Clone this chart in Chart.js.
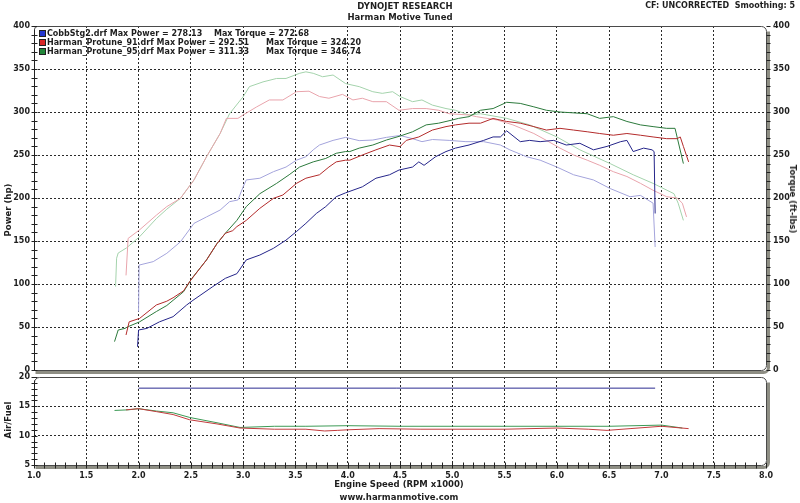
<!DOCTYPE html>
<html><head><meta charset="utf-8">
<script src="https://cdn.jsdelivr.net/npm/chart.js@4.4.1/dist/chart.umd.min.js"></script>
<style>
html,body{margin:0;padding:0;background:#fff;}
#wrap{position:relative;width:800px;height:503px;overflow:hidden;background:#fff;font-family:"DejaVu Sans",Verdana,sans-serif;font-weight:bold;color:#1e1e1e;}
canvas{position:absolute;left:0;top:0;}
.t{position:absolute;white-space:pre;font-size:8.5px;line-height:10px;}
.c{transform:translateX(-50%);}
.rot{transform:translate(-50%,-50%) rotate(-90deg);}
.rotr{transform:translate(-50%,-50%) rotate(90deg);}
.lg{position:absolute;white-space:pre;font-size:8px;line-height:9px;}
.box{position:absolute;width:5px;height:5px;border:1px solid #222;}
</style></head>
<body><div id="wrap">
<canvas id="topc" width="800" height="503"></canvas>
<canvas id="botc" width="800" height="503"></canvas>
<div class="t c" style="left:405px;top:1px">DYNOJET RESEARCH</div>
<div class="t c" style="left:400px;top:12px">Harman Motive Tuned</div>
<div class="t" style="right:5px;top:1px;font-size:8px">CF: UNCORRECTED  Smoothing: 5</div>
<div class="box" style="left:39px;top:30px;background:#2438d0"></div>
<div class="box" style="left:39px;top:39px;background:#d82626"></div>
<div class="box" style="left:39px;top:48px;background:#23873a"></div>
<div class="lg" style="left:47px;top:29px">CobbStg2.drf Max Power = 278.13</div>
<div class="lg" style="left:214px;top:29px">Max Torque = 272.68</div>
<div class="lg" style="left:47px;top:38px">Harman_Protune_91.drf Max Power = 292.51</div>
<div class="lg" style="left:266px;top:38px">Max Torque = 324.20</div>
<div class="lg" style="left:47px;top:47px">Harman_Protune_95.drf Max Power = 311.33</div>
<div class="lg" style="left:266px;top:47px">Max Torque = 346.74</div>
<div class="t rot" style="left:8px;top:210px">Power (hp)</div>
<div class="t rotr" style="left:793px;top:199px">Torque (ft-lbs)</div>
<div class="t rot" style="left:8px;top:420px">Air/Fuel</div>
<div class="t c" style="left:399px;top:479px">Engine Speed (RPM x1000)</div>
<div class="t c" style="left:399px;top:492px">www.harmanmotive.com</div>
</div>
<script>
// ---- data (RPM x1000 / values) ----
const cobbPowerRpm = [1.99,2.00,2.08,2.20,2.33,2.46,2.52,2.71,2.83,2.94,3.03,3.16,3.29,3.41,3.51,3.60,3.70,3.79,3.89,3.98,4.14,4.27,4.40,4.49,4.62,4.68,4.73,4.84,4.94,5.03,5.16,5.30,5.39,5.46,5.52,5.65,5.74,5.84,5.97,6.09,6.22,6.35,6.48,6.61,6.67,6.73,6.83,6.91,6.93,6.94];
const cobbPowerHp = [27,46.5,48.4,56,62,75.6,81,97,106.6,112,128,133.7,141.5,151,161,170.5,182,190,201.5,206,213,223,227,232.5,236,242,238,248,254,258,261.6,267,271,271,278.1,265.5,267,265.5,267,261.6,263.6,256,260,265.5,267,254,258,256,254,182];
const cobbTorqueRpm = [2.00,2.005,2.14,2.27,2.40,2.53,2.65,2.78,2.87,2.95,3.00,3.03,3.16,3.29,3.41,3.51,3.60,3.67,3.73,3.86,3.98,4.11,4.24,4.37,4.50,4.62,4.71,4.81,4.97,5.13,5.30,5.46,5.55,5.71,5.84,6.00,6.16,6.35,6.51,6.70,6.80,6.92,6.94];
const cobbTorqueFtlb = [68,122,126,135.7,149,170.5,178,186,195.7,197.7,213,221,223,230.6,236,244,248,256,261.6,267,270.5,266.7,267.4,270.5,272.7,269,265.5,268,267,265.5,265.5,261.6,256,248,244,236,227,221,211,201.5,203,194,143];

const h91PowerRpm = [1.88,1.91,2.01,2.17,2.27,2.33,2.43,2.49,2.65,2.75,2.83,2.90,2.94,3.03,3.16,3.29,3.38,3.51,3.60,3.73,3.82,3.89,3.98,4.02,4.14,4.27,4.40,4.50,4.56,4.68,4.81,4.94,5.03,5.16,5.27,5.39,5.52,5.65,5.78,5.90,6.03,6.16,6.29,6.41,6.54,6.67,6.80,6.92,7.05,7.15,7.18,7.21,7.26];
const h91PowerHp = [40.7,56,60,75.6,80,84,92,103,128,147,159,162,166.7,174,188,199.6,203.5,217,223,227,236,242,244,244,250,256,261.6,259.7,267,271,279,283,285,287,287,292.5,289,287,283,279,281,279,277,275,273,275,273,271,269,269,271,260,242];
const h91TorqueRpm = [1.88,1.90,2.01,2.17,2.27,2.40,2.53,2.65,2.78,2.84,2.95,3.00,3.13,3.25,3.38,3.51,3.63,3.73,3.82,3.95,4.05,4.14,4.24,4.37,4.49,4.62,4.75,4.87,4.97,5.16,5.23,5.43,5.58,5.78,5.90,6.03,6.16,6.29,6.41,6.54,6.67,6.80,6.92,7.05,7.15,7.20,7.24];
const h91TorqueFtlb = [110,153,163,180,190,199.6,221,248,275,292.6,292.6,296.5,306,314,314,323.6,324.2,318,316,320.5,314,316,312,312,302,304,304,302,298,296.5,294.6,290.7,285,275,267,258,250,244,238,230.6,225,217,209,201.5,200,194,178];

const h95PowerRpm = [1.77,1.805,1.87,1.90,2.01,2.17,2.27,2.33,2.43,2.51,2.65,2.75,2.83,2.94,3.03,3.16,3.32,3.44,3.54,3.67,3.79,3.89,3.98,4.02,4.11,4.24,4.37,4.50,4.62,4.75,4.87,5.00,5.06,5.16,5.27,5.39,5.52,5.65,5.78,5.90,6.03,6.29,6.41,6.54,6.67,6.80,6.92,7.05,7.13,7.21];
const h95PowerHp = [33,46.5,48.4,50.4,56,68,75,81,91,106.6,128,147,159,174,190,205,217,227,236,242,246,252,254,254,258,261.6,267.4,272,277,285,287,290.7,292.6,294.6,302,304,311.3,310,306,302,300,298,292.6,294.6,289,285,283,281,281,240];
const h95TorqueRpm = [1.78,1.79,1.805,1.885,2.01,2.17,2.27,2.40,2.53,2.65,2.78,2.87,3.00,3.06,3.19,3.32,3.41,3.54,3.60,3.67,3.76,3.86,3.98,4.11,4.24,4.33,4.43,4.50,4.62,4.71,4.81,4.94,5.03,5.16,5.27,5.52,5.74,6.00,6.22,6.51,6.73,6.92,7.12,7.16,7.21];
const h95TorqueFtlb = [97,130,136,142,155,176,187,199.6,221,248,275,298,317.8,329.5,335,339,339,345,346.7,345,341,343,333,329.5,323.6,321.7,323.6,318,312,314,308,304,302,296.5,298,292.6,285,271,256,240,227,217,205,194,174];

const cobbAfrRpm = [2.00,6.94];
const cobbAfr = [18.1,18.1];
const h91AfrRpm = [1.88,2.00,2.17,2.33,2.49,2.75,2.97,3.30,3.60,3.78,3.90,4.00,4.30,4.70,5.00,5.50,6.00,6.30,6.48,6.70,7.00,7.26];
const h91Afr = [14.4,14.6,14.1,13.6,12.7,12.0,11.3,11.1,11.1,10.8,10.9,11.0,11.2,11.1,11.1,11.1,11.3,11.1,10.9,11.2,11.6,11.2];
const h95AfrRpm = [1.77,1.90,2.00,2.17,2.33,2.49,2.75,2.97,3.30,3.60,4.00,4.50,5.00,5.50,6.00,6.50,7.00,7.20];
const h95Afr = [14.3,14.4,14.6,14.2,13.9,13.1,12.2,11.4,11.6,11.6,11.7,11.6,11.6,11.6,11.6,11.6,11.8,11.3];

const xTickLabels = ['1.0','1.5','2.0','2.5','3.0','3.5','4.0','4.5','5.0','5.5','6.0','6.5','7.0','7.5','8.0'];

// ---- helpers ----
const pts = (xs, ys) => xs.map((x, i) => ({x: x, y: ys[i]}));
const FONT = {family: '"DejaVu Sans", Verdana, sans-serif', size: 8, weight: 'bold'};
const TXT = '#1e1e1e';
const GRID = '#2a2a2a';
const SHADOW = '#8e8e84';
const line = (label, xs, ys, color, axis) => ({label, data: pts(xs, ys), borderColor: color, backgroundColor: color, borderWidth: 1, pointRadius: 0, tension: 0, yAxisID: axis, fill: false});
const gridAt = (skip) => (ctx) => (ctx.tick && skip.some(s => Math.abs(ctx.tick.value - s) < 1e-6)) ? 'rgba(0,0,0,0)' : GRID;

function framePlugin(cfg) {
  return {
    id: 'frame' + cfg.name,
    afterDraw(chart) {
      const ctx = chart.ctx, a = chart.chartArea;
      const L = Math.round(a.left) + 0.5, R = Math.round(a.right) + 0.5;
      const T = Math.round(a.top) + 0.5, B = Math.round(a.bottom) + 0.5;
      ctx.save();
      ctx.strokeStyle = SHADOW; ctx.lineWidth = 3;
      ctx.beginPath();
      ctx.moveTo(R + 2, T + 5);
      ctx.lineTo(R + 2, B - 4);
      ctx.arcTo(R + 2, B + 2, R - 4, B + 2, 5);
      ctx.lineTo(L + 1, B + 2);
      ctx.stroke();
      ctx.strokeStyle = '#4a4a4a'; ctx.lineWidth = 1;
      ctx.beginPath();
      if (ctx.roundRect) ctx.roundRect(L, T, R - L, B - T, cfg.radii); else ctx.rect(L, T, R - L, B - T);
      ctx.stroke();
      ctx.strokeStyle = '#222';
      ctx.beginPath(); ctx.moveTo(L, T + 3); ctx.lineTo(L, B); ctx.stroke();
      ctx.beginPath();
      const ys = chart.scales[cfg.yLeft];
      for (let v = ys.min; v <= ys.max + 1e-6; v += cfg.yMinor) {
        const p = Math.round(ys.getPixelForValue(v)) + 0.5;
        ctx.moveTo(L - 3, p); ctx.lineTo(L + 3, p);
      }
      if (cfg.yRight) {
        const yr = chart.scales[cfg.yRight];
        for (let v = yr.min; v <= yr.max + 1e-6; v += cfg.yMinor) {
          const p = Math.round(yr.getPixelForValue(v)) + 0.5;
          ctx.moveTo(R, p); ctx.lineTo(R + 4, p);
        }
      }
      if (cfg.xMinor) {
        const xs = chart.scales.x;
        for (let k = 0; k <= Math.round((xs.max - xs.min) / cfg.xMinor); k++) {
          const v = xs.min + k * cfg.xMinor;
          const p = Math.round(xs.getPixelForValue(v)) + 0.5;
          ctx.moveTo(p, B - 3); ctx.lineTo(p, B + 3);
        }
      }
      ctx.stroke();
      ctx.restore();
    }
  };
}

Chart.defaults.font = FONT;
Chart.defaults.color = TXT;

new Chart(document.getElementById('topc'), {
  type: 'line',
  data: {datasets: [
    line('CobbStg2 Power', cobbPowerRpm, cobbPowerHp, '#25258a', 'y'),
    line('Harman_Protune_91 Power', h91PowerRpm, h91PowerHp, '#b32b2b', 'y'),
    line('Harman_Protune_95 Power', h95PowerRpm, h95PowerHp, '#2c7a3c', 'y'),
    line('CobbStg2 Torque', cobbTorqueRpm, cobbTorqueFtlb, '#a4a4dc', 'y1'),
    line('Harman_Protune_91 Torque', h91TorqueRpm, h91TorqueFtlb, '#e9a4ac', 'y1'),
    line('Harman_Protune_95 Torque', h95TorqueRpm, h95TorqueFtlb, '#a4d3ac', 'y1')
  ]},
  options: {
    responsive: false, animation: false, devicePixelRatio: 1,
    layout: {padding: {top: 26, bottom: 133, left: 0, right: 0}},
    plugins: {legend: {display: false}, tooltip: {enabled: false}},
    scales: {
      x: {type: 'linear', min: 1, max: 8,
          ticks: {stepSize: 0.5, display: false, autoSkip: false},
          grid: {color: gridAt([1, 8]), drawTicks: false, lineWidth: 1},
          border: {display: false, dash: [2, 2]},
          afterFit: (s) => { s.height = 0; }},
      y: {type: 'linear', position: 'left', min: 0, max: 400,
          ticks: {stepSize: 50, padding: 4, color: TXT},
          grid: {color: gridAt([0, 400]), drawTicks: false},
          border: {display: false, dash: [2, 2]},
          afterFit: (s) => { s.width = 34; }},
      y1: {type: 'linear', position: 'right', min: 0, max: 400,
          ticks: {stepSize: 50, padding: 7, color: TXT},
          grid: {display: false, drawTicks: false},
          border: {display: false},
          afterFit: (s) => { s.width = 34; }}
    }
  },
  plugins: [framePlugin({name: 'top', yLeft: 'y', yRight: 'y1', yMinor: 10, radii: [3, 5, 5, 0]})]
});

new Chart(document.getElementById('botc'), {
  type: 'line',
  data: {datasets: [
    line('CobbStg2 AFR', cobbAfrRpm, cobbAfr, '#2a2a90', 'y'),
    line('Harman_Protune_91 AFR', h91AfrRpm, h91Afr, '#c23a3c', 'y'),
    line('Harman_Protune_95 AFR', h95AfrRpm, h95Afr, '#3c9a55', 'y')
  ]},
  options: {
    responsive: false, animation: false, devicePixelRatio: 1,
    layout: {padding: {top: 377, bottom: 0, left: 0, right: 34}},
    plugins: {legend: {display: false}, tooltip: {enabled: false}},
    scales: {
      x: {type: 'linear', min: 1, max: 8,
          ticks: {stepSize: 0.5, autoSkip: false, maxRotation: 0, padding: 6, color: TXT,
                  callback: (v) => xTickLabels[Math.round((v - 1) * 2)]},
          grid: {color: gridAt([1, 8]), drawTicks: false},
          border: {display: false, dash: [2, 2]},
          afterFit: (s) => { s.height = 38; }},
      y: {type: 'linear', position: 'left', min: 5, max: 20,
          ticks: {stepSize: 5, padding: 4, color: TXT},
          grid: {color: gridAt([5, 20]), drawTicks: false},
          border: {display: false, dash: [2, 2]},
          afterFit: (s) => { s.width = 34; }}
    }
  },
  plugins: [framePlugin({name: 'bot', yLeft: 'y', yRight: null, yMinor: 1, xMinor: 0.1, radii: [5, 5, 5, 0]})]
});
</script>
</body></html>
